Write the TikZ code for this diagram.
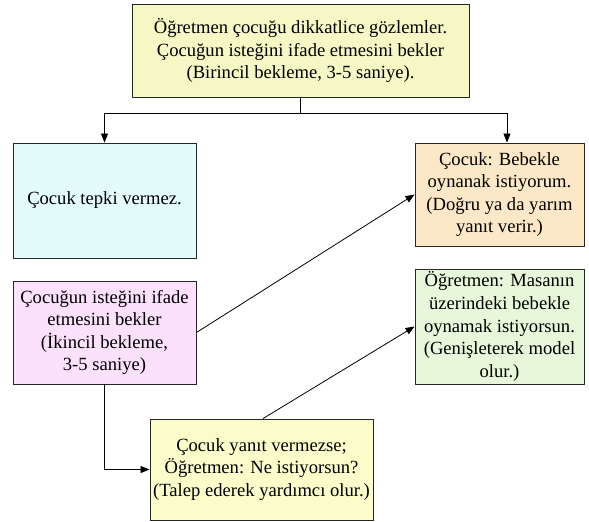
\documentclass[tikz,border=0pt]{standalone}
\usepackage{fontspec}
\setmainfont{Liberation Serif}
\usetikzlibrary{arrows.meta}
\definecolor{cTop}{HTML}{F5F8C4}
\definecolor{cCyan}{HTML}{E3FBFB}
\definecolor{cOrange}{HTML}{FCE8C6}
\definecolor{cMag}{HTML}{FCE1FC}
\definecolor{cGreen}{HTML}{E7F8DA}
\definecolor{cBot}{HTML}{FAFCC9}
\tikzset{
  box/.style={draw=black!85, line width=0.9pt, align=center, inner sep=0pt,
    font=\fontsize{18.6}{22.6}\selectfont},
  arr/.style={draw=black, line width=0.8pt, -{Triangle[length=9pt,width=7pt]}},
  ln/.style={draw=black, line width=0.8pt}
}
\begin{document}
\begin{tikzpicture}[x=1pt,y=-1pt]
\useasboundingbox (0,0) rectangle (589,522);
\node[box, fill=cTop, minimum width=337pt, minimum height=93pt] (top) at (300.5,50.5)
  {Öğretmen çocuğu dikkatlice gözlemler.\\Çocuğun isteğini ifade etmesini bekler\\(Birincil bekleme, 3-5 saniye).};
\node[box, fill=cCyan, minimum width=183pt, minimum height=115pt] (cyan) at (104.5,200.5)
  {Çocuk tepki vermez.};
\node[box, fill=cOrange, minimum width=169pt, minimum height=103pt] (orange) at (499.5,194.5)
  {Çocuk: Bebekle\\oynanak istiyorum.\\(Doğru ya da yarım\\yanıt verir.)};
\node[box, fill=cMag, minimum width=183pt, minimum height=103pt] (mag) at (104.5,332.5)
  {Çocuğun isteğini ifade\\etmesini bekler\\(İkincil bekleme,\\3-5 saniye)};
\node[box, fill=cGreen, minimum width=169pt, minimum height=115pt] (green) at (499.5,326.5)
  {Öğretmen: Masanın\\üzerindeki bebekle\\oynamak istiyorsun.\\(Genişleterek model\\olur.)};
\node[box, fill=cBot, minimum width=223pt, minimum height=101pt] (bot) at (261.5,469.5)
  {Çocuk yanıt vermezse;\\Öğretmen: Ne istiyorsun?\\(Talep ederek yardımcı olur.)};
\draw[ln] (top.south) -- ++(0,16) coordinate (j);
\draw[arr] (j) -| (cyan.north);
\draw[arr] (j) -| ([xshift=7.5pt]orange.north);
\draw[arr] (mag.east) -- (orange.west);
\draw[arr] ([xshift=1.5pt]bot.north) -- (green.west);
\draw[arr] (mag.south) |- (bot.west);
\end{tikzpicture}
\end{document}
